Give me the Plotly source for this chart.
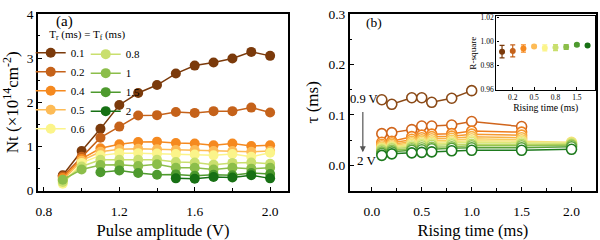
import plotly.graph_objects as go

# ---------------- Panel (a) data ----------------
amp_v = [0.9, 1.0, 1.1, 1.2, 1.3, 1.4, 1.5, 1.6, 1.7, 1.8, 1.9, 2.0]
tr_labels = ["0.1", "0.2", "0.4", "0.5", "0.6", "0.8", "1", "1.5", "2"]
nt_01 = [0.35, 0.90, 1.40, 1.94, 2.21, 2.39, 2.65, 2.83, 2.90, 2.99, 3.14, 3.05]
nt_02 = [0.32, 0.77, 1.20, 1.45, 1.70, 1.71, 1.78, 1.76, 1.80, 1.80, 1.88, 1.77]
nt_04 = [0.29, 0.72, 0.96, 1.05, 1.10, 1.11, 1.08, 1.07, 1.03, 1.07, 1.01, 1.03]
nt_05 = [0.24, 0.68, 0.88, 0.94, 0.95, 0.94, 0.92, 0.92, 0.90, 0.90, 0.88, 0.90]
nt_06 = [0.16, 0.63, 0.80, 0.85, 0.85, 0.84, 0.83, 0.82, 0.80, 0.83, 0.77, 0.86]
nt_08 = [0.20, 0.55, 0.70, 0.70, 0.70, 0.70, 0.65, 0.64, 0.59, 0.63, 0.64, 0.61]
nt_1 = [0.25, 0.48, 0.58, 0.59, 0.56, 0.60, 0.52, 0.52, 0.48, 0.52, 0.50, 0.52]
nt_15 = [None, None, 0.42, 0.46, 0.40, 0.36, 0.37, 0.34, 0.36, 0.35, 0.40, 0.38]
nt_2 = [None, None, None, None, None, None, 0.28, 0.27, 0.31, 0.30, 0.35, 0.28]
nt_series = [nt_01, nt_02, nt_04, nt_05, nt_06, nt_08, nt_1, nt_15, nt_2]
colors_a = ["#7B3A0B", "#C5621A", "#F5891F", "#FDBB56", "#FBF48A",
            "#C9DF6E", "#8CBE4A", "#4E9A2E", "#177014"]

# ---------------- Panel (b) data ----------------
rise_ms = [0.1, 0.2, 0.4, 0.5, 0.6, 0.8, 1.0, 1.5, 2.0]
amp_labels = ["0.9 V", "1.0 V", "1.1 V", "1.2 V", "1.3 V", "1.4 V",
              "1.5 V", "1.6 V", "1.7 V", "1.8 V", "1.9 V", "2.0 V"]
tau_09 = [0.130, 0.121, 0.134, 0.134, 0.125, 0.133, 0.148, None, None]
tau_10 = [0.063, 0.065, 0.071, 0.078, 0.078, 0.080, 0.087, 0.077, None]
tau_11 = [0.046, 0.048, 0.057, 0.060, 0.062, 0.063, 0.068, 0.066, None]
tau_12 = [0.042, 0.045, 0.052, 0.055, 0.057, 0.058, 0.062, 0.060, None]
tau_13 = [0.039, 0.042, 0.048, 0.051, 0.053, 0.054, 0.057, 0.055, None]
tau_14 = [0.036, 0.039, 0.045, 0.048, 0.049, 0.050, 0.053, 0.051, None]
tau_15 = [0.034, 0.037, 0.042, 0.045, 0.046, 0.047, 0.049, 0.048, 0.046]
tau_16 = [0.032, 0.035, 0.039, 0.042, 0.043, 0.044, 0.046, 0.045, 0.044]
tau_17 = [0.030, 0.033, 0.036, 0.039, 0.040, 0.041, 0.042, 0.042, 0.042]
tau_18 = [0.027, 0.030, 0.033, 0.035, 0.036, 0.037, 0.039, 0.039, 0.040]
tau_19 = [0.024, 0.027, 0.030, 0.031, 0.033, 0.034, 0.035, 0.035, 0.037]
tau_20 = [0.020, 0.023, 0.025, 0.026, 0.027, 0.029, 0.030, 0.030, 0.032]
tau_series = [tau_09, tau_10, tau_11, tau_12, tau_13, tau_14,
              tau_15, tau_16, tau_17, tau_18, tau_19, tau_20]
colors_b = ["#8B4A17", "#D0651C", "#EE7E1E", "#F59A30", "#F8B347", "#F8CC5E",
            "#F5E27A", "#E0E87A", "#BFD966", "#93C252", "#5AA23A", "#1E7A1E"]

# ---------------- Inset data ----------------
inset_labels = tr_labels
r_square = [0.9917, 0.9923, 0.9943, 0.9961, 0.9948, 0.9951, 0.9956, 0.9974, 0.9969]
r_err = [0.0052, 0.0050, 0.0030, 0.0010, 0.0025, 0.0025, 0.0020, 0.0010, 0.0008]
inset_ticks = ["0.2", "0.5", "0.8", "1.5"]

FONT = "Liberation Serif"
fig = go.Figure()

# Panel (a) traces
col1 = tr_labels[:5]
for lab, ys, c in zip(tr_labels, nt_series, colors_a):
    fig.add_trace(go.Scatter(
        x=amp_v, y=ys, name=lab, mode="lines+markers",
        line=dict(color=c, width=1.5),
        marker=dict(color=c, size=10, symbol="circle"),
        xaxis="x", yaxis="y",
        legend="legend" if lab in col1 else "legend2",
        connectgaps=False))

# Panel (b) traces
for lab, ys, c in zip(amp_labels, tau_series, colors_b):
    fig.add_trace(go.Scatter(
        x=rise_ms, y=ys, name=lab, mode="lines+markers", showlegend=False,
        line=dict(color=c, width=1.5),
        marker=dict(color="white", size=10, symbol="circle",
                    line=dict(color=c, width=1.6)),
        xaxis="x2", yaxis="y2"))

# Inset traces
for lab, r, e, c in zip(inset_labels, r_square, r_err, colors_a):
    fig.add_trace(go.Scatter(
        x=[lab], y=[r], mode="markers", showlegend=False,
        marker=dict(color=c, size=6),
        error_y=dict(type="data", array=[e], color=c, thickness=1.2, width=2.5),
        xaxis="x3", yaxis="y3"))

ax_common = dict(showline=True, linecolor="black", linewidth=1.6, mirror=True,
                 showgrid=False, zeroline=False, ticks="inside", ticklen=4,
                 tickwidth=1.2, tickcolor="black",
                 tickfont=dict(family=FONT, size=13.5, color="black"))

fig.update_layout(
    width=600, height=240,
    margin=dict(l=0, r=0, t=0, b=0),
    paper_bgcolor="white", plot_bgcolor="white",
    font=dict(family=FONT, color="black"),
    xaxis=dict(domain=[0.06, 0.4783], range=[0.768, 2.095], anchor="y",
               tick0=0.8, dtick=0.4, tickformat=".1f", ticklabelstandoff=7,
               minor=dict(dtick=0.2, ticks="inside", ticklen=2.5, tickcolor="black"),
               title=dict(text="Pulse amplitude (V)", font=dict(size=16.5), standoff=7),
               **ax_common),
    yaxis=dict(domain=[0.1833, 0.9696], range=[0, 4], anchor="x",
               tick0=0, dtick=1,
               minor=dict(dtick=0.5, ticks="inside", ticklen=2.5, tickcolor="black"),
               title=dict(text="Nt (×10<sup>14</sup>cm<sup>-2</sup>)", font=dict(size=17), standoff=4),
               **ax_common),
    xaxis2=dict(domain=[0.5817, 0.9933], range=[-0.22, 2.245], anchor="y2",
                tick0=0, dtick=0.5, tickformat=".1f", ticklabelstandoff=7,
                minor=dict(dtick=0.25, ticks="inside", ticklen=2.5, tickcolor="black"),
                title=dict(text="Rising time (ms)", font=dict(size=16.5), standoff=7),
                **ax_common),
    yaxis2=dict(domain=[0.1833, 0.9696], range=[-0.05, 0.3], anchor="x2",
                tick0=0, dtick=0.1, tickformat=".1f",
                minor=dict(dtick=0.05, ticks="inside", ticklen=2.5, tickcolor="black"),
                title=dict(text="τ (ms)", font=dict(size=17), standoff=6),
                **ax_common),
    xaxis3=dict(domain=[0.8267, 0.9917], type="category", range=[-0.53, 8.7],
                anchor="y3", tickvals=inset_ticks, ticktext=inset_ticks,
                showline=True, linecolor="black", linewidth=1.3, mirror=True,
                showgrid=False, zeroline=False, ticks="inside", ticklen=2.5,
                tickcolor="black", tickfont=dict(family=FONT, size=7.5),
                title=dict(text="Rising time (ms)", font=dict(size=9.7), standoff=1)),
    yaxis3=dict(domain=[0.632, 0.958], range=[0.96, 1.021], anchor="x3",
                tickvals=[0.96, 0.98, 1.00, 1.02], tickformat=".2f",
                showline=True, linecolor="black", linewidth=1.3, mirror=True,
                showgrid=False, zeroline=False, ticks="inside", ticklen=2.5,
                tickcolor="black", tickfont=dict(family=FONT, size=7.5),
                title=dict(text="R-square", font=dict(size=9.2), standoff=2)),
    legend=dict(x=0.048, xanchor="left", y=0.925, yanchor="top",
                bgcolor="rgba(0,0,0,0)", itemwidth=30,
                font=dict(family=FONT, size=11),
                title=dict(text="&nbsp;&nbsp;&nbsp;&nbsp;&nbsp;&nbsp;"
                                "T<sub>r</sub> (ms) = T<sub>f</sub> (ms)",
                           font=dict(family=FONT, size=11))),
    legend2=dict(x=0.14, xanchor="left", y=0.855, yanchor="top",
                 bgcolor="rgba(0,0,0,0)", itemwidth=30,
                 font=dict(family=FONT, size=11)),
    annotations=[
        dict(text="(a)", x=0.911, y=3.82, xref="x", yref="y", showarrow=False,
             font=dict(family=FONT, size=15)),
        dict(text="(b)", x=0.017, y=0.282, xref="x2", yref="y2", showarrow=False,
             font=dict(family=FONT, size=13.5)),
        dict(text="0.9 V", x=-0.08, y=0.131, xref="x2", yref="y2", showarrow=False,
             font=dict(family=FONT, size=12.5)),
        dict(text="2 V", x=-0.05, y=0.009, xref="x2", yref="y2", showarrow=False,
             font=dict(family=FONT, size=13)),
        dict(text="", x=-0.09, y=0.026, ax=-0.09, ay=0.109, xref="x2", yref="y2",
             axref="x2", ayref="y2", showarrow=True, arrowhead=2, arrowsize=1,
             arrowwidth=1.2, arrowcolor="#555555"),
    ],
)

fig.write_html("out.html")
